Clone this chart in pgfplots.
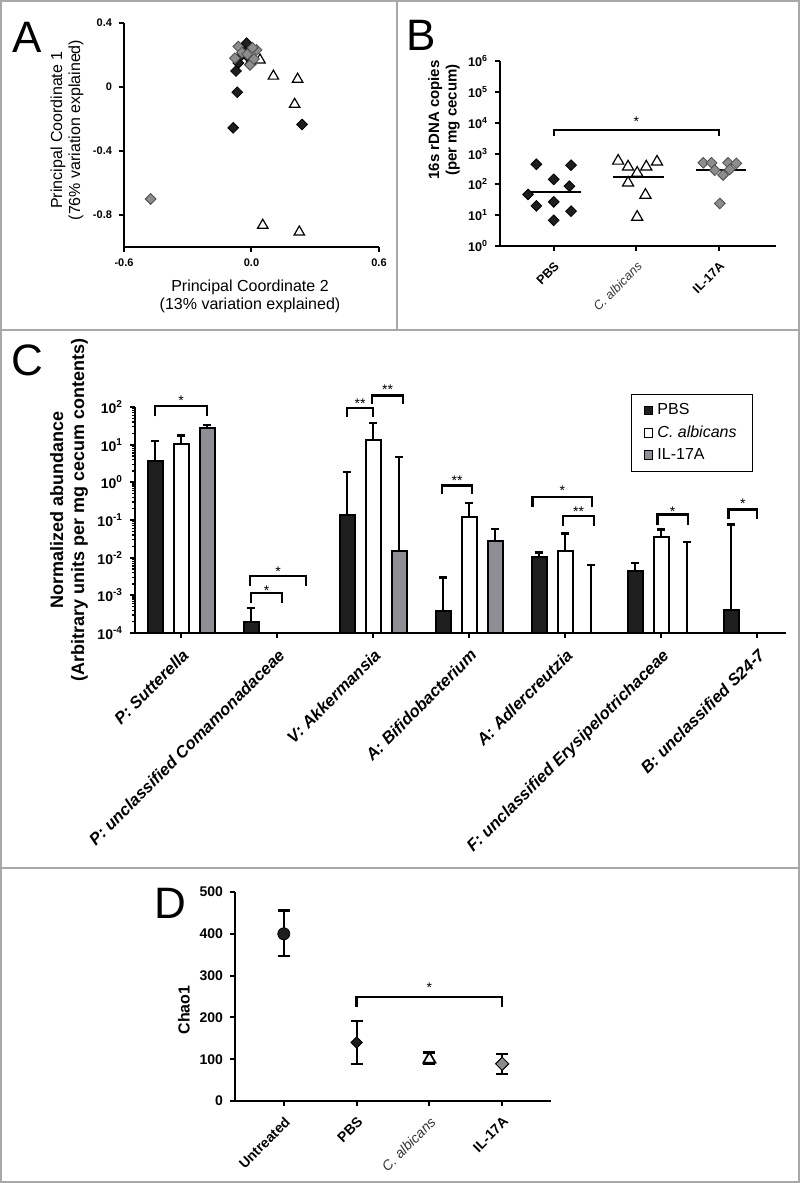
\documentclass[border=0pt]{standalone}
\usepackage{pgfplots}
\pgfplotsset{compat=1.18}
\usepackage{fontspec}
\setmainfont{Liberation Sans}
\definecolor{gpblack}{HTML}{1E1E1E}
\definecolor{gpgray}{HTML}{8C8C8C}
\definecolor{bargray}{HTML}{8E8E94}
\definecolor{framegray}{HTML}{A8A8A8}
\pgfplotsset{
  gp/.style={scale only axis, anchor=south west,
    axis x line*=bottom, axis y line*=left,
    axis line style={-, line width=1pt},
    tick align=outside,
    major tick style={line width=1pt, black},
    minor tick style={line width=0.6pt, black},
    major tick length=2.5pt, minor tick length=1.5pt,
    /pgf/number format/assume math mode=true,
    clip=false},
  bracket/.style={forget plot, line width=1.2pt, black, line join=miter},
  cbar/.style={error bars/.cd, y dir=plus, y explicit, error bar style={line width=0.8pt, black},
    error mark options={rotate=90, line width=1.1pt, mark size=2pt, black}},
  derr/.style={error bars/.cd, y dir=both, y explicit, error bar style={line width=0.9pt, black},
    error mark options={rotate=90, line width=1.1pt, mark size=3pt, black}},
}
\tikzset{stars/.style={font=\fontsize{7}{8}\selectfont, anchor=base, yshift=-4pt, inner sep=0pt}}
\newcommand{\tp}[1]{\textbf{10\textsuperscript{#1}}}
\begin{document}
\begin{tikzpicture}
\begin{scope}[x=0.5pt,y=-0.5pt]
\useasboundingbox (0,0) rectangle (800,1183);
\draw[framegray, line width=0.8pt] (1,1) rectangle (799,1182);
\draw[framegray, line width=0.8pt] (0,330) -- (800,330) (0,868) -- (800,868) (397,0) -- (397,330);
\end{scope}

% ---------------- Panel A ----------------
\begin{axis}[gp, at={(62pt,-123.5pt)}, width=127.5pt, height=112pt,
  xmin=-0.6, xmax=0.6, ymin=-1.0, ymax=0.4,
  xtick={-0.6,0,0.6}, xticklabels={-0.6,0.0,0.6},
  ytick={-0.8,-0.4,0,0.4}, yticklabels={-0.8,-0.4,0,0.4},
  ticklabel style={font=\bfseries\fontsize{5.5}{6}\selectfont}]
\addplot[only marks, mark=triangle*, mark size=3pt, mark options={fill=white, draw=black, line width=0.6pt}]
  coordinates {(0.04,0.169) (0.103,0.068) (0.217,0.049) (0.203,-0.108) (0.053,-0.864) (0.225,-0.906) (-0.030,0.220) (-0.005,0.160)};
\addplot[only marks, mark=square*, mark size=1.9pt, mark options={rotate=45, fill=gpblack, draw=black, line width=0.4pt}]
  coordinates {(-0.073,0.10) (-0.067,-0.033) (-0.086,-0.255) (0.238,-0.234) (-0.023,0.274) (-0.062,0.150) (-0.040,0.230) (-0.010,0.180) (-0.050,0.195)};
\addplot[only marks, mark=square*, mark size=1.9pt, mark options={rotate=45, fill=gpgray, draw=black!70, line width=0.4pt}]
  coordinates {(-0.475,-0.70) (-0.062,0.253) (0.024,0.232) (-0.007,0.138) (-0.078,0.18) (-0.045,0.215) (0.005,0.245) (-0.020,0.205) (0.012,0.175)};
\end{axis}

% ---------------- Panel B ----------------
\begin{axis}[gp, at={(250pt,-123pt)}, width=138pt, height=92.5pt,
  ymode=log, ymin=1, ymax=1e6, ytick={1,10,100,1000,10000,100000,1000000},
  yticklabels={\tp{0},\tp{1},\tp{2},\tp{3},\tp{4},\tp{5},\tp{6}},
  yminorticks=false,
  xmin=-0.65, xmax=2.69, xtick={0,1,2},
  xticklabels={\textbf{PBS},{\color{black!80}\textit{C. albicans}},\textbf{IL-17A}},
  yticklabel style={font=\fontsize{6.3}{7}\selectfont},
  xticklabel style={font=\fontsize{6.3}{7}\selectfont, rotate=45, anchor=north east}]
\addplot[only marks, mark=square*, mark size=1.9pt, mark options={rotate=45, fill=gpblack, draw=black}]
  coordinates {(-0.21,447) (0.21,417) (0,145) (0.19,87) (-0.31,47) (0,27) (-0.21,20) (0.21,13.5) (0,6.8)};
\addplot[only marks, mark=triangle*, mark size=3.2pt, mark options={fill=white, draw=black, line width=0.6pt}]
  coordinates {(0.78,575) (1.25,537) (0.90,372) (1.12,372) (1.01,234) (0.90,112) (1.11,45) (1.01,8.7)};
\addplot[only marks, mark=square*, mark size=1.9pt, mark options={rotate=45, fill=gpgray, draw=black!70}]
  coordinates {(1.81,500) (1.91,500) (2.11,500) (2.21,479) (1.95,288) (2.13,302) (2.05,200) (2.01,24)};
\addplot[line width=0.9pt] coordinates {(-0.28,56) (0.33,56)};
\addplot[line width=0.9pt] coordinates {(0.72,174) (1.33,174)};
\addplot[line width=0.9pt] coordinates {(1.72,290) (2.33,290)};
\addplot[bracket] coordinates {(0,3630) (0,5750) (2,5750) (2,3630)};
\node[stars] at (axis cs:1,13800) {*};
\end{axis}

% ---------------- Panel C ----------------
\begin{axis}[gp, at={(67.5pt,-316.5pt)}, width=325.5pt, height=113pt,
  ymode=log, ymin=1e-4, ymax=100, log origin=infty,
  ytick={1e-4,1e-3,1e-2,1e-1,1,10,100},
  yticklabels={\tp{-4},\tp{-3},\tp{-2},\tp{-1},\tp{0},\tp{1},\tp{2}},
  yticklabel style={font=\fontsize{7}{8}\selectfont},
  xmin=-0.48, xmax=6.30, xtick={0,1,2,3,4,5,6},
  xticklabels={P: Sutterella, P: unclassified Comamonadaceae, V: Akkermansia, A: Bifidobacterium, A: Adlercreutzia, F: unclassified Erysipelotrichaceae, B: unclassified S24-7},
  xticklabel style={font=\bfseries\itshape\fontsize{8.3}{9}\selectfont, rotate=45, anchor=north east},
  legend cell align=left,
  legend style={at={(rel axis cs:0.762,1.058)}, anchor=north west, draw=black, line width=0.6pt,
    font=\fontsize{8}{9}\selectfont, inner xsep=6pt, inner ysep=2.5pt, row sep=0pt,
    /tikz/every even column/.append style={column sep=2.5pt}}]
\addplot[ybar, bar width=0.156, bar shift=0, fill=gpblack, draw=black, line width=1pt,
  legend image code/.code={\draw[fill=gpblack, draw=black, line width=0.5pt] (0pt,-2.2pt) rectangle (4.4pt,2.2pt);},
  cbar]
  coordinates {(-0.27,3.6) +- (0,8.7) (0.73,2.0e-4) +- (0,2.7e-4) (1.73,0.134) +- (0,1.77) (2.73,3.9e-4) +- (0,2.6e-3) (3.73,0.0104) +- (0,0.0034) (4.73,0.0045) +- (0,0.0026) (5.73,4.1e-4) +- (0,0.0756)};
\addlegendentry{PBS}
\addplot[ybar, bar width=0.156, bar shift=0, fill=white, draw=black, line width=1pt,
  legend image code/.code={\draw[fill=white, draw=black, line width=0.5pt] (0pt,-2.2pt) rectangle (4.4pt,2.2pt);},
  cbar]
  coordinates {(0,10.3) +- (0,7.2) (2,13.6) +- (0,24.4) (3,0.117) +- (0,0.163) (4,0.015) +- (0,0.029) (5,0.035) +- (0,0.021)};
\addlegendentry{\textit{C. albicans}}
\addplot[ybar, bar width=0.156, bar shift=0, fill=bargray, draw=black, line width=1pt,
  legend image code/.code={\draw[fill=bargray, draw=black, line width=0.5pt] (0pt,-2.2pt) rectangle (4.4pt,2.2pt);},
  cbar]
  coordinates {(0.27,27) +- (0,7) (2.27,0.015) +- (0,4.585) (3.27,0.028) +- (0,0.029)};
\addlegendentry{IL-17A}
\addplot[forget plot, line width=0.8pt, mark=-, mark indices={2}, mark options={line width=1.1pt, mark size=2pt}]
  coordinates {(4.27,1e-4) (4.27,0.0063)};
\addplot[forget plot, line width=0.8pt, mark=-, mark indices={2}, mark options={line width=1.1pt, mark size=2pt}]
  coordinates {(5.27,1e-4) (5.27,0.026)};
% brackets
\addplot[bracket] coordinates {(-0.27,56) (-0.27,105) (0.27,105) (0.27,56)};
\node[stars] at (axis cs:0,180) {*};
\addplot[bracket] coordinates {(0.73,6.3e-4) (0.73,1.17e-3) (1.05,1.17e-3) (1.05,6.3e-4)};
\node[stars] at (axis cs:0.89,1.66e-3) {*};
\addplot[bracket] coordinates {(0.72,1.74e-3) (0.72,3.3e-3) (1.30,3.3e-3) (1.30,1.74e-3)};
\node[stars] at (axis cs:1.01,5.2e-3) {*};
\addplot[bracket] coordinates {(1.73,54) (1.73,93) (2.0,93) (2.0,54)};
\node[stars] at (axis cs:1.865,150) {**};
\addplot[bracket] coordinates {(1.99,123) (1.99,204) (2.31,204) (2.31,123)};
\node[stars] at (axis cs:2.15,355) {**};
\addplot[bracket] coordinates {(2.72,0.48) (2.72,0.83) (3.03,0.83) (3.03,0.48)};
\node[stars] at (axis cs:2.875,1.35) {**};
\addplot[bracket] coordinates {(3.66,0.22) (3.66,0.41) (4.28,0.41) (4.28,0.22)};
\node[stars] at (axis cs:3.97,0.74) {*};
\addplot[bracket] coordinates {(3.98,0.069) (3.98,0.129) (4.30,0.129) (4.30,0.069)};
\node[stars] at (axis cs:4.14,0.20) {**};
\addplot[bracket] coordinates {(4.96,0.072) (4.96,0.141) (5.28,0.141) (5.28,0.072)};
\node[stars] at (axis cs:5.12,0.20) {*};
\addplot[bracket] coordinates {(5.70,0.105) (5.70,0.19) (6.0,0.19) (6.0,0.105)};
\node[stars] at (axis cs:5.85,0.33) {*};
\end{axis}

% ---------------- Panel D ----------------
\begin{axis}[gp, at={(117.5pt,-550.5pt)}, width=158pt, height=104.5pt,
  ymin=0, ymax=500, ytick={0,100,200,300,400,500}, yticklabels={0,100,200,300,400,500},
  yticklabel style={font=\bfseries\fontsize{7}{8}\selectfont},
  xmin=-0.67, xmax=3.67, xtick={0,1,2,3},
  xticklabels={\textbf{Untreated},\textbf{PBS},{\color{black!80}\textit{C. albicans}},\textbf{IL-17A}},
  xticklabel style={font=\fontsize{7}{8}\selectfont, rotate=45, anchor=north east}]
\addplot[only marks, mark=*, mark size=3pt, mark options={fill=gpblack, draw=black}, derr]
  coordinates {(0,400) += (0,56) -= (0,54)};
\addplot[only marks, mark=square*, mark size=2pt, mark options={rotate=45, fill=gpblack, draw=black}, derr]
  coordinates {(1,140) += (0,51) -= (0,51)};
\addplot[only marks, mark=triangle*, mark size=3.4pt, mark options={fill=white, draw=black, line width=0.8pt}, derr]
  coordinates {(2,100) += (0,16) -= (0,12)};
\addplot[only marks, mark=triangle*, mark size=3.4pt, mark options={fill=white, draw=black, line width=0.8pt}, forget plot]
  coordinates {(2,100)};
\addplot[only marks, mark=square*, mark size=2.3pt, mark options={rotate=45, fill=gpgray, draw=black}, derr]
  coordinates {(3,89) += (0,24) -= (0,24)};
\addplot[only marks, mark=square*, mark size=2.3pt, mark options={rotate=45, fill=gpgray, draw=black}, forget plot]
  coordinates {(3,89)};
\addplot[bracket] coordinates {(1,225) (1,249) (3,249) (3,225)};
\node[stars] at (axis cs:2,279) {*};
\end{axis}

% ---------------- Labels ----------------
\begin{scope}[x=0.5pt,y=-0.5pt]
\node[anchor=base west, inner sep=0, font=\fontsize{22}{22}\selectfont] at (12,52) {A};
\node[anchor=base west, inner sep=0, font=\fontsize{22}{22}\selectfont] at (406,50) {B};
\node[anchor=base west, inner sep=0, font=\fontsize{22}{22}\selectfont] at (11,375) {C};
\node[anchor=base west, inner sep=0, font=\fontsize{22}{22}\selectfont] at (154,918) {D};
\node[align=center, font=\fontsize{8}{9}\selectfont] at (250,296) {Principal Coordinate 2\\(13\% variation explained)};
\node[align=center, rotate=90, font=\fontsize{8}{9}\selectfont] at (67,130) {Principal Coordinate 1\\(76\% variation explained)};
\node[align=center, rotate=90, font=\bfseries\fontsize{7.5}{8.8}\selectfont] at (444,120) {16s rDNA copies\\(per mg cecum)};
\node[align=center, rotate=90, font=\bfseries\fontsize{9}{10.5}\selectfont] at (69,510) {Normalized abundance\\(Arbitrary units per mg cecum contents)};
\node[rotate=90, font=\bfseries\fontsize{8}{9}\selectfont] at (184,1010) {Chao1};
\end{scope}
\end{tikzpicture}
\end{document}
